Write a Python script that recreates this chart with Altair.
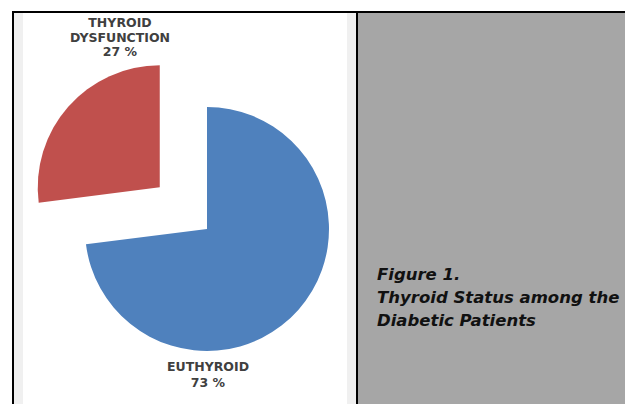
import altair as alt
import pandas as pd

# ---- data ----
categories = ["EUTHYROID", "THYROID DYSFUNCTION"]
values = [73, 27]
slice_colors = ["#4f81bd", "#c0504d"]
label_lines = [["EUTHYROID", "73 %"], ["THYROID", "DYSFUNCTION", "27 %"]]
caption_lines = ["Figure 1.", "Thyroid Status among the", "\u00a0Diabetic Patients"]

# ---- layout ----
W, H = 617, 396
CX, CY, R = 199, 221, 122
EXPLODE = 63

one = pd.DataFrame({"k": [0]})


def rect(x, x2, y, y2, color):
    return alt.Chart(one).mark_rect(color=color).encode(
        x=alt.value(x), x2=alt.value(x2), y=alt.value(y), y2=alt.value(y2)
    )


def text(lines, x, y, **kw):
    return alt.Chart(one).mark_text(x=x, y=y, **kw).encode(text=alt.value(lines))


panels = [
    rect(6, 15, 5, H, "#f0f0f0"),
    rect(339, 348, 5, H, "#f0f0f0"),
    rect(350, W, 5, H, "#a6a6a6"),
    rect(4, W, 3, 5, "#000000"),
    rect(4, 6, 3, H, "#000000"),
    rect(348, 350, 3, H, "#000000"),
]

df = pd.DataFrame({"status": categories, "pct": values})

pie = (
    alt.Chart(df)
    .transform_window(cum="sum(pct)", frame=[None, 0])
    .transform_joinaggregate(total="sum(pct)")
    .transform_calculate(
        t0="(datum.cum - datum.pct) / datum.total * 2 * PI",
        t1="datum.cum / datum.total * 2 * PI",
    )
    .transform_calculate(
        mid="(datum.t0 + datum.t1) / 2",
        ex=f"datum.status == '{categories[1]}' ? {EXPLODE} : 0",
    )
    .transform_calculate(
        cx=f"{CX} + datum.ex * sin(datum.mid)",
        cy=f"{CY} - datum.ex * cos(datum.mid)",
    )
    .mark_arc(radius=R, strokeWidth=0)
    .encode(
        theta=alt.Theta("t0:Q", scale=None),
        theta2="t1:Q",
        x=alt.X("cx:Q", scale=None, axis=None),
        y=alt.Y("cy:Q", scale=None, axis=None),
        color=alt.Color(
            "status:N",
            scale=alt.Scale(domain=categories, range=slice_colors),
            legend=None,
        ),
    )
)

label_style = dict(
    font="DejaVu Sans", fontWeight="bold", fontSize=12.5, color="#404040",
    align="center", baseline="middle",
)
labels = [
    text(label_lines[1], 112, 15, lineHeight=14.5, **label_style),
    text(label_lines[0], 200, 359, lineHeight=16, **label_style),
]

cap_style = dict(
    font="DejaVu Sans", fontWeight="bold", fontStyle="italic", fontSize=16.5,
    color="#111111", align="left", baseline="middle", lineHeight=23,
)
caption = [text(caption_lines, 369, 267, **cap_style)]

chart = (
    alt.layer(*panels, pie, *labels, *caption)
    .properties(width=W, height=H, padding=0, autosize=alt.AutoSizeParams(type="none"),
                background="#ffffff")
    .configure_view(stroke=None)
)

chart.save("out.html", embed_options={"renderer": "svg", "actions": False})
